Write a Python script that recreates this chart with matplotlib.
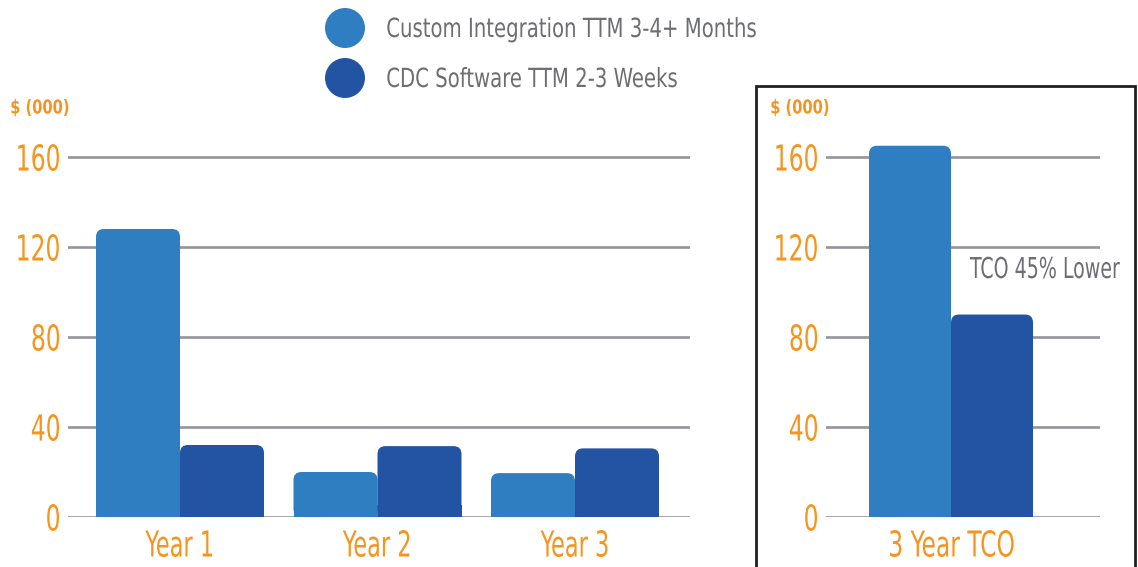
import matplotlib
matplotlib.use("Agg")
import matplotlib.pyplot as plt
from matplotlib.patches import FancyBboxPatch, Rectangle, Ellipse
from matplotlib.patheffects import AbstractPathEffect
from matplotlib.transforms import Affine2D

# ---- data ----
years = ["Year 1", "Year 2", "Year 3"]
custom_vals = [128, 20, 19.5]
cdc_vals = [32, 31.5, 30.5]
tco_label = ["3 Year TCO"]
tco_custom = [165]
tco_cdc = [90]
yticks = [0, 40, 80, 120, 160]
series_names = ["Custom Integration TTM 3-4+ Months", "CDC Software TTM 2-3 Weeks"]
unit_label = "$ (000)"
note = "TCO 45% Lower"

LIGHT = "#2E7EC1"
DARK = "#2354A3"
ORANGE = "#F7941D"
GRID = "#939598"
TEXT = "#6D6E71"

plt.rcParams["font.family"] = "DejaVu Sans"
plt.rcParams["font.stretch"] = "condensed"


class HScale(AbstractPathEffect):
    """Horizontally condense a text path around an anchor."""
    def __init__(self, sx, anchor="center"):
        super().__init__()
        self.sx = sx
        self.anchor = anchor

    def draw_path(self, renderer, gc, tpath, affine, rgbFace=None):
        ext = tpath.get_extents(affine)
        if self.anchor == "left":
            x0 = ext.x0
        elif self.anchor == "right":
            x0 = ext.x1
        else:
            x0 = (ext.x0 + ext.x1) / 2
        aff = affine + Affine2D().translate(-x0, 0).scale(self.sx, 1).translate(x0, 0)
        renderer.draw_path(gc, tpath, aff, rgbFace)


W, H = 1138, 567
fig = plt.figure(figsize=(W / 100, H / 100), dpi=100)

YMAX = 170
PX_PER_UNIT = 2.25
ax_h = YMAX * PX_PER_UNIT
bottom = (H - 517) / H
XSCALE = 197.5


def rounded_bar(ax, x, h, w, color, r_px=8):
    rx = r_px / XSCALE
    ry = r_px / PX_PER_UNIT
    p = FancyBboxPatch((x - w / 2, 0), w, h,
                       boxstyle=f"round,pad=0,rounding_size={rx}",
                       mutation_aspect=ry / rx, fc=color, ec="none", zorder=3)
    ax.add_patch(p)
    ax.bar(x, ry * 1.5, width=w, bottom=0, color=color, zorder=3, linewidth=0)


def style_axes(ax):
    ax.set_ylim(0, YMAX)
    for t in yticks:
        ax.axhline(t, color=GRID, lw=1.9, zorder=1)
    for s in ax.spines.values():
        s.set_visible(False)
    ax.set_yticks(yticks)
    ax.set_yticklabels([str(t) for t in yticks], color=ORANGE, fontsize=25.7)
    ax.tick_params(axis="y", length=0, pad=5)
    ax.tick_params(axis="x", length=0, pad=9, labelsize=25.7, labelcolor=ORANGE)
    for lbl in ax.get_yticklabels():
        lbl.set_path_effects([HScale(0.73, "right")])
    ax.patch.set_alpha(0)


# left axes
x0, x1 = 68, 690
axL = fig.add_axes([x0 / W, bottom, (x1 - x0) / W, ax_h / H])
cL = 180
axL.set_xlim((x0 - cL) / XSCALE, (x1 - cL) / XSCALE)
bw = 84 / XSCALE
for i, (a, b) in enumerate(zip(custom_vals, cdc_vals)):
    rounded_bar(axL, i - bw / 2, a, bw, LIGHT)
    rounded_bar(axL, i + bw / 2, b, bw, DARK)
style_axes(axL)
axL.set_xticks(range(len(years)))
axL.set_xticklabels(years)
for lbl in axL.get_xticklabels():
    lbl.set_path_effects([HScale(0.70, "center")])

# right axes
r0, r1 = 826, 1100
axR = fig.add_axes([r0 / W, bottom, (r1 - r0) / W, ax_h / H])
cR = 951
axR.set_xlim((r0 - cR) / XSCALE, (r1 - cR) / XSCALE)
bw2 = 82 / XSCALE
rounded_bar(axR, -bw2 / 2, tco_custom[0], bw2, LIGHT)
rounded_bar(axR, bw2 / 2, tco_cdc[0], bw2, DARK)
style_axes(axR)
axR.set_xticks([0])
axR.set_xticklabels(tco_label)
for lbl in axR.get_xticklabels():
    lbl.set_path_effects([HScale(0.73, "center")])

# box around right panel
fig.patches.append(Rectangle((756 / W, -0.02), (1135 - 756) / W, (567 - 86) / H + 0.02,
                             transform=fig.transFigure, fill=False,
                             ec="#231F20", lw=2))

# unit labels
for xx in (10, 770):
    fig.text(xx / W, 1 - 108 / H, unit_label, color=ORANGE, fontsize=13.8,
             fontweight="bold", va="center", ha="left",
             path_effects=[HScale(0.85, "left")])

# note
fig.text(970 / W, 1 - 270 / H, note, color=TEXT, fontsize=20.7, va="center", ha="left",
         path_effects=[HScale(0.735, "left")])

# legend
for yy, col, name in [(28, LIGHT, series_names[0]), (78, DARK, series_names[1])]:
    fig.patches.append(Ellipse((345 / W, 1 - yy / H), 40 / W, 40 / H,
                               transform=fig.transFigure, fc=col, ec="none"))
    fig.text(386 / W, 1 - (yy + 2) / H, name, color=TEXT, fontsize=19, va="center",
             ha="left", path_effects=[HScale(0.83, "left")])

fig.savefig("out.png", dpi=100)
